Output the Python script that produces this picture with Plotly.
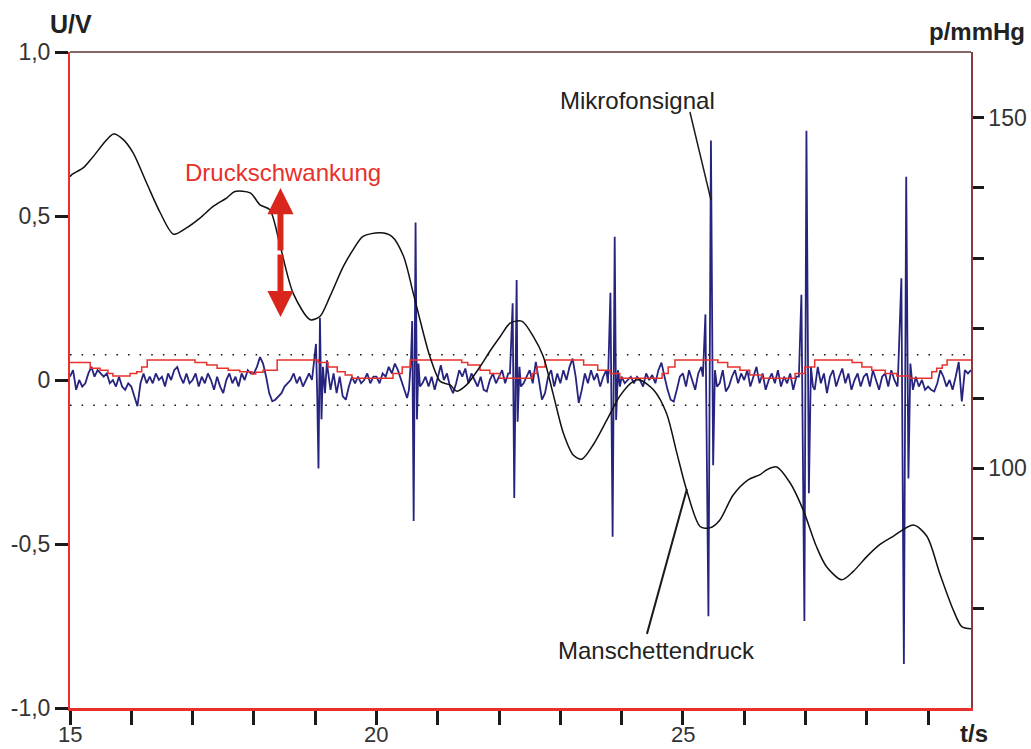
import plotly.graph_objects as go

# ---- Manschettendruck (cuff pressure), mmHg, right axis ----
cuff_t = [15.00, 15.03, 15.22, 15.38, 15.71, 15.87, 16.03, 16.25, 16.47, 16.69, 16.90,
          17.12, 17.34, 17.56, 17.69, 17.94, 18.10, 18.26, 18.43, 18.64, 18.92, 19.08,
          19.24, 19.46, 19.62, 19.78, 20.06, 20.25, 20.44, 20.60, 20.71, 20.87, 21.04,
          21.20, 21.31, 21.47, 21.69, 21.85, 22.02, 22.18, 22.37, 22.56, 22.72, 22.88,
          23.05, 23.21, 23.35, 23.54, 23.76, 23.97, 24.19, 24.30, 24.52, 24.73, 24.90,
          25.06, 25.28, 25.44, 25.60, 25.82, 26.07, 26.26, 26.37, 26.53, 26.75, 26.96,
          27.18, 27.34, 27.59, 27.78, 28.00, 28.21, 28.43, 28.76, 28.98, 29.19, 29.41,
          29.55, 29.70]
cuff_p = [141.6, 141.9, 142.9, 144.5, 147.7, 146.9, 145.0, 140.7, 136.5, 133.4, 134.3,
          135.7, 137.4, 138.6, 139.5, 139.3, 137.6, 136.9, 131.7, 125.0, 121.2, 121.7,
          124.5, 128.8, 131.2, 133.1, 133.6, 133.1, 130.3, 125.0, 121.2, 116.0, 112.4,
          111.9, 111.0, 111.9, 114.5, 116.7, 118.8, 120.7, 121.0, 118.8, 116.0, 110.7,
          105.0, 101.9, 101.3, 103.4, 106.9, 110.3, 112.4, 112.6, 111.2, 107.9, 102.2,
          96.9, 91.7, 91.5, 92.6, 96.2, 98.4, 99.1, 99.8, 100.2, 97.9, 94.1,
          88.8, 86.0, 84.1, 85.3, 87.4, 89.1, 90.3, 91.9, 90.3, 85.0, 79.8,
          77.4, 77.1]

# ---- Druckschwankung (pressure oscillation), V, stepped ----
osc_t = [15.00, 15.33, 15.49, 15.62, 15.70, 15.98, 16.09, 16.17, 16.26, 17.04, 17.23,
         17.40, 17.58, 17.77, 17.97, 18.03, 18.15, 18.38, 19.05, 19.21, 19.36, 19.49,
         19.60, 20.27, 20.42, 20.55, 21.39, 21.49, 21.69, 21.85, 22.01, 22.54, 22.62,
         22.75, 23.38, 23.61, 23.81, 23.97, 24.66, 24.76, 24.87, 25.57, 25.73, 25.93,
         26.09, 26.29, 26.83, 26.99, 27.15, 27.76, 27.92, 28.08, 28.30, 28.49, 28.70,
         29.06, 29.14, 29.23, 29.31, 29.70]
osc_u = [0.053, 0.036, 0.030, 0.020, 0.012, 0.020, 0.025, 0.040, 0.061, 0.053, 0.046,
         0.036, 0.030, 0.025, 0.018, 0.024, 0.030, 0.061, 0.053, 0.040, 0.025, 0.015,
         0.005, 0.020, 0.040, 0.061, 0.053, 0.046, 0.030, 0.020, 0.005, 0.020, 0.040,
         0.061, 0.046, 0.030, 0.020, 0.005, 0.020, 0.040, 0.061, 0.053, 0.040, 0.030,
         0.015, 0.005, 0.020, 0.040, 0.061, 0.053, 0.040, 0.030, 0.020, 0.012, 0.005,
         0.025, 0.036, 0.046, 0.061, 0.061]

# ---- Mikrofonsignal, V: background noise sampled every 0.05 s from 15 s ----
mic_start = 15.0
mic_step = 0.05
mic_noise = [
    0.01, 0.03, -0.03, 0.0, -0.02, -0.01, 0.02, 0.04, 0.01, 0.03, 0.02, 0.01, 0.02, -0.01, 0.0, -0.02, 0.01, -0.02, -0.03, -0.01,
    -0.02, -0.05, -0.08, -0.01, 0.02, -0.01, 0.01, -0.01, 0.02, 0.0, 0.01, -0.02, 0.02, 0.0, 0.03, 0.04, 0.01, -0.01, 0.02, -0.01,
    0.0, 0.02, -0.02, 0.01, -0.01, 0.02, 0.0, -0.03, 0.01, -0.02, -0.04, 0.0, 0.02, -0.01, 0.01, -0.02, 0.02, 0.0, 0.03, 0.02,
    0.02, 0.04, 0.07, 0.05, 0.01, -0.04, -0.065, -0.06, -0.05, -0.04, -0.02, -0.01, 0.0, 0.02, -0.01, 0.01, -0.02, 0.0, 0.02, 0.01,
    0.0, 0.0, 0.05, -0.02, 0.04, -0.03, 0.02, -0.04, 0.01, -0.05, -0.06, -0.02, 0.01, -0.01, 0.01, -0.01, 0.0, 0.02, -0.01, 0.01,
    0.01, -0.01, 0.02, 0.01, 0.04, 0.02, 0.05, 0.03, 0.0, -0.03, -0.055, -0.04, 0.0, 0.0, 0.02, -0.01, 0.01, -0.02, 0.01, -0.03,
    0.01, 0.045, 0.0, 0.02, -0.02, -0.04, -0.01, 0.03, 0.01, 0.035, -0.01, 0.02, 0.0, -0.02, 0.01, -0.03, -0.035, 0.0, 0.02, -0.01,
    0.01, 0.03, -0.01, 0.02, 0.0, 0.0, 0.0, 0.02, -0.01, 0.01, 0.03, -0.01, 0.055, 0.0, -0.06, -0.04, 0.01, 0.03, -0.02, 0.02,
    -0.01, 0.03, 0.0, 0.04, 0.065, 0.01, -0.07, -0.03, 0.02, -0.01, 0.03, 0.0, 0.02, -0.02, 0.01, 0.03, -0.01, 0.0, 0.0, -0.02,
    0.01, -0.01, 0.0, 0.01, -0.01, 0.01, 0.0, -0.02, 0.02, 0.0, 0.015, -0.01, 0.03, 0.053, 0.01, -0.03, -0.06, -0.066, -0.03, 0.01,
    0.02, -0.02, 0.03, 0.0, -0.03, 0.02, 0.04, 0.0, 0.0, 0.0, -0.02, 0.02, -0.01, 0.03, -0.035, -0.02, 0.01, 0.03, -0.01, 0.02,
    0.0, 0.03, -0.02, 0.01, 0.04, -0.01, 0.02, -0.03, 0.0, 0.02, -0.01, 0.03, -0.02, 0.01, -0.01, 0.02, -0.03, 0.01, 0.02, 0.0,
    0.0, 0.0, 0.03, -0.03, 0.04, -0.01, 0.02, -0.04, 0.01, 0.03, -0.02, 0.01, 0.035, -0.01, 0.02, -0.03, 0.0, 0.02, -0.02, 0.01,
    0.02, -0.02, 0.03, 0.0, -0.03, 0.01, 0.02, -0.02, 0.03, 0.0, -0.02, 0.0, 0.0, 0.0, 0.02, -0.01, 0.01, -0.02, 0.0, -0.03,
    -0.02, -0.03, -0.035, -0.01, 0.03, 0.01, -0.02, 0.0, -0.03, 0.01, 0.055, -0.065, 0.03, 0.02, 0.03,
]

# Korotkoff bursts in the microphone signal (time in s, voltage in V)
burst_t = [
    [18.948, 18.980, 19.013, 19.034, 19.054, 19.078, 19.103, 19.127, 19.160, 19.193],
    [20.530, 20.563, 20.583, 20.607, 20.638, 20.661, 20.685, 20.710],
    [22.178, 22.222, 22.248, 22.287, 22.303, 22.333, 22.357],
    [23.777, 23.817, 23.853, 23.887, 23.910, 23.940, 23.972],
    [25.326, 25.367, 25.416, 25.457, 25.493, 25.522, 25.555],
    [26.892, 26.933, 26.982, 27.015, 27.055, 27.088, 27.121],
    [28.507, 28.564, 28.605, 28.643, 28.679, 28.711, 28.752],
]
burst_u = [
    [0.0, 0.05, 0.11, -0.05, -0.27, 0.19, -0.12, 0.04, -0.04, 0.06],
    [-0.03, 0.06, 0.18, -0.43, 0.48, -0.12, 0.05, -0.02],
    [0.02, 0.234, -0.36, 0.305, -0.127, 0.04, -0.02],
    [-0.01, 0.266, -0.478, 0.437, -0.122, 0.03, -0.02],
    [0.01, 0.20, -0.72, 0.73, -0.26, 0.03, -0.02],
    [0.01, 0.26, -0.735, 0.76, -0.345, 0.04, -0.02],
    [0.0, 0.31, -0.866, 0.62, -0.30, 0.05, -0.03],
]

# tick positions and labels
u_ticks = [-1.0, -0.5, 0.0, 0.5, 1.0]
u_labels = ["-1,0", "-0,5", "0", "0,5", "1,0"]
t_ticks = list(range(15, 30))
t_label_vals = [15, 20, 25]
t_label_text = ["15", "20", "25"]
p_ticks = list(range(80, 151, 10))
p_labels = ["", "", "100", "", "", "", "", "150"]

# merge noise and bursts into one time-ordered microphone trace
pts = []
for k, v in enumerate(mic_noise):
    tk = mic_start + k * mic_step
    if any(bt[0] <= tk <= bt[-1] for bt in burst_t):
        continue
    pts.append((tk, v))
for bt, bu in zip(burst_t, burst_u):
    pts.extend(zip(bt, bu))
pts.sort()
mic_t = [p[0] for p in pts]
mic_u = [p[1] for p in pts]

RED = "#e8302c"
NAVY = "#26247e"
INK = "#1a1a1a"
FONT = "Liberation Sans, Arial, sans-serif"

fig = go.Figure()
fig.add_trace(go.Scatter(x=mic_t, y=mic_u, mode="lines",
                         line=dict(color=NAVY, width=1.8), name="Mikrofonsignal"))
fig.add_trace(go.Scatter(x=osc_t, y=osc_u, mode="lines", line_shape="hv",
                         line=dict(color=RED, width=1.5), name="Druckschwankung"))
fig.add_trace(go.Scatter(x=cuff_t, y=cuff_p, mode="lines", yaxis="y2",
                         line=dict(color="#111111", width=1.5, shape="spline", smoothing=0.8),
                         name="Manschettendruck"))

tick_font = dict(family=FONT, size=23, color="#333333")
time_font = dict(family=FONT, size=22, color="#333333")

fig.update_layout(
    template="none",
    width=1031, height=749,
    margin=dict(l=70, r=60, t=52, b=41, autoexpand=False),
    paper_bgcolor="white", plot_bgcolor="white",
    showlegend=False,
    font=dict(family=FONT, size=22, color="#333333"),
    xaxis=dict(range=[15, 29.7], tickvals=t_ticks, showticklabels=False, automargin=False,
               ticks="outside", ticklen=14, tickwidth=3, tickcolor=INK,
               showline=True, linecolor=RED, linewidth=2.5,
               showgrid=False, zeroline=False),
    yaxis=dict(range=[-1, 1], tickvals=u_ticks, ticktext=u_labels, automargin=False,
               ticks="outside", ticklen=13, tickwidth=3, tickcolor=INK,
               showline=True, linecolor=RED, linewidth=2,
               showgrid=False, zeroline=False, tickfont=tick_font),
    yaxis2=dict(overlaying="y", side="right", range=[65.8, 159.4], automargin=False,
                tickvals=p_ticks, ticktext=p_labels,
                ticks="outside", ticklen=11, tickwidth=3, tickcolor=INK,
                showline=True, linecolor="#8a3c3c", linewidth=1.5,
                showgrid=False, zeroline=False, tickfont=tick_font),
)

# time tick labels, placed just under the tick marks
for tv, tt in zip(t_label_vals, t_label_text):
    fig.add_annotation(x=tv, y=-0.041, xref="x", yref="paper", text=tt,
                       showarrow=False, xanchor="center", yanchor="middle",
                       borderpad=0, font=time_font)

# top frame line and dotted band around zero
fig.add_shape(type="line", xref="paper", yref="paper", x0=0, x1=1, y0=1, y1=1,
              line=dict(color="#5b3434", width=1.5))
for lvl in (0.077, -0.077):
    fig.add_shape(type="line", xref="paper", yref="y", x0=0, x1=1, y0=lvl, y1=lvl,
                  line=dict(color=INK, width=1.6, dash="1.6px,10px"))

# leader lines for the curve labels
fig.add_shape(type="line", xref="x", yref="y", x0=25.114, y0=0.817, x1=25.457, y1=0.549,
              line=dict(color=INK, width=1.5))
fig.add_shape(type="line", xref="x", yref="y", x0=24.413, y0=-0.774, x1=25.065, y1=-0.332,
              line=dict(color=INK, width=2))

# double arrow marking the pressure oscillation
for tip, off in ((0.585, 64), (0.192, -64)):
    fig.add_annotation(x=18.434, y=tip, xref="x", yref="y", ax=0, ay=off,
                       text="", showarrow=True, arrowhead=2, arrowsize=0.87,
                       arrowwidth=6, arrowcolor="#d9261c", standoff=0)

labels = [
    ("<b>U/V</b>", 0.0006, 1.0434, 25, "#222222"),
    ("<b>p/mmHg</b>", 1.0072, 1.0313, 24, "#222222"),
    ("<b>t/s</b>", 1.0033, -0.039, 24, "#222222"),
    ("Druckschwankung", 0.2364, 0.817, 24, RED),
    ("Mikrofonsignal", 0.6304, 0.9268, 24, "#222222"),
    ("Manschettendruck", 0.6504, 0.0884, 24, "#222222"),
]
for txt, x, y, size, col in labels:
    fig.add_annotation(text=txt, x=x, y=y, xref="paper", yref="paper",
                       xanchor="center", yanchor="middle", showarrow=False,
                       borderpad=0, font=dict(family=FONT, size=size, color=col))

fig.write_html("out.html")
